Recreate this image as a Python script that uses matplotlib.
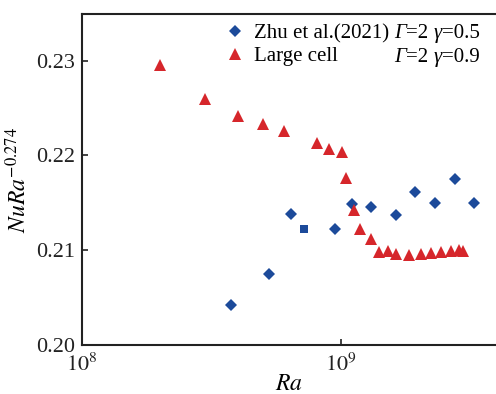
import matplotlib
matplotlib.use("Agg")
import matplotlib.pyplot as plt
from matplotlib.lines import Line2D
import numpy as np

plt.rcParams['font.family'] = ['Liberation Serif', 'DejaVu Serif']
plt.rcParams['mathtext.fontset'] = 'stix'

# Zhu et al. (2021), Gamma=2 gamma=0.5
zhu_ra = [3.77e8, 5.28e8, 6.41e8, 7.21e8, 9.5e8, 1.11e9, 1.31e9, 1.63e9, 1.94e9, 2.32e9, 2.77e9, 3.27e9]
zhu_nu = [0.2042, 0.2075, 0.2138, 0.2123, 0.2123, 0.2149, 0.2146, 0.2137, 0.2161, 0.2150, 0.2175, 0.2150]
zhu_marker = ['D', 'D', 'D', 's', 'D', 'D', 'D', 'D', 'D', 'D', 'D', 'D']

# Large cell, Gamma=2 gamma=0.9
lc_ra = [2.0e8, 3.0e8, 4.0e8, 5.0e8, 6.05e8, 8.1e8, 9.0e8, 1.01e9, 1.05e9, 1.13e9, 1.19e9, 1.31e9,
         1.41e9, 1.52e9, 1.64e9, 1.84e9, 2.04e9, 2.23e9, 2.45e9, 2.67e9, 2.86e9, 2.97e9]
lc_nu = [0.2295, 0.2259, 0.2242, 0.2233, 0.2226, 0.2213, 0.2207, 0.2204, 0.2176, 0.2142, 0.2122, 0.2112,
         0.2098, 0.2099, 0.2096, 0.2095, 0.2096, 0.2097, 0.2098, 0.2099, 0.2100, 0.2099]

yticks = [0.20, 0.21, 0.22, 0.23]
ytick_labels = ['0.20', '0.21', '0.22', '0.23']
series_labels = ['Zhu et al.(2021)', 'Large cell']
gamma_vals = ['0.5', '0.9']

blue = '#1c4a9a'
red = '#d6262b'

fig = plt.figure(figsize=(4.96, 3.94), dpi=100)
ax = fig.add_axes([0.1653, 0.1236, 0.8347, 0.8409])

for x, y, m in zip(zhu_ra, zhu_nu, zhu_marker):
    ax.plot([x], [y], linestyle='none', marker=m, color=blue,
            markersize=6.0 if m == 'D' else 5.5, markeredgewidth=0)
ax.plot(lc_ra, lc_nu, linestyle='none', marker='^', color=red, markersize=8, markeredgewidth=0)

ax.set_xscale('log')
ax.set_xlim(1e8, 10**9.6)
ax.set_ylim(0.20, 0.2349)
ax.set_yticks(yticks)
ax.set_yticklabels(ytick_labels)
ax.set_xticks([1e8, 1e9])
ax.set_xticklabels([r'$10^8$', r'$10^9$'])
ax.xaxis.set_minor_locator(matplotlib.ticker.NullLocator())

ax.tick_params(direction='in', length=4, width=1.2, labelsize=16, colors='#222222', pad=5)
ax.tick_params(axis='x', pad=6)
for s in ['left', 'bottom', 'top']:
    ax.spines[s].set_linewidth(1.5)
    ax.spines[s].set_color('#222222')
ax.spines['right'].set_visible(False)

ax.set_xlabel(r'$Ra$', fontsize=17, labelpad=-1)
ax.set_ylabel(r'$NuRa^{-0.274}$', fontsize=17)
ax.yaxis.set_label_coords(-0.122, 0.5)

# legend
handles = [Line2D([], [], linestyle='none', marker='D', color=blue, markersize=6, markeredgewidth=0),
           Line2D([], [], linestyle='none', marker='^', color=red, markersize=8, markeredgewidth=0)]
leg = ax.legend(handles, series_labels, loc='upper left',
                bbox_to_anchor=(0.33, 0.995), frameon=False, fontsize=15,
                handlelength=0.8, handletextpad=0.5, labelspacing=0.15, borderaxespad=0.0)

# parameter annotations with italic Greek letters
for yb, g in zip([0.9285, 0.856], gamma_vals):
    t0 = ax.text(0.755, yb, 'Γ', transform=ax.transAxes, fontsize=15,
                 fontstyle='italic', va='baseline', ha='left')
    t1 = ax.annotate('=2 ', xy=(1, 0), xycoords=t0, fontsize=15, va='bottom', ha='left')
    t2 = ax.annotate('γ', xy=(1, 0), xycoords=t1, fontsize=15, fontstyle='italic',
                     va='bottom', ha='left')
    ax.annotate('=' + g, xy=(1, 0), xycoords=t2, fontsize=15, va='bottom', ha='left')

fig.savefig('out.png', dpi=100)
